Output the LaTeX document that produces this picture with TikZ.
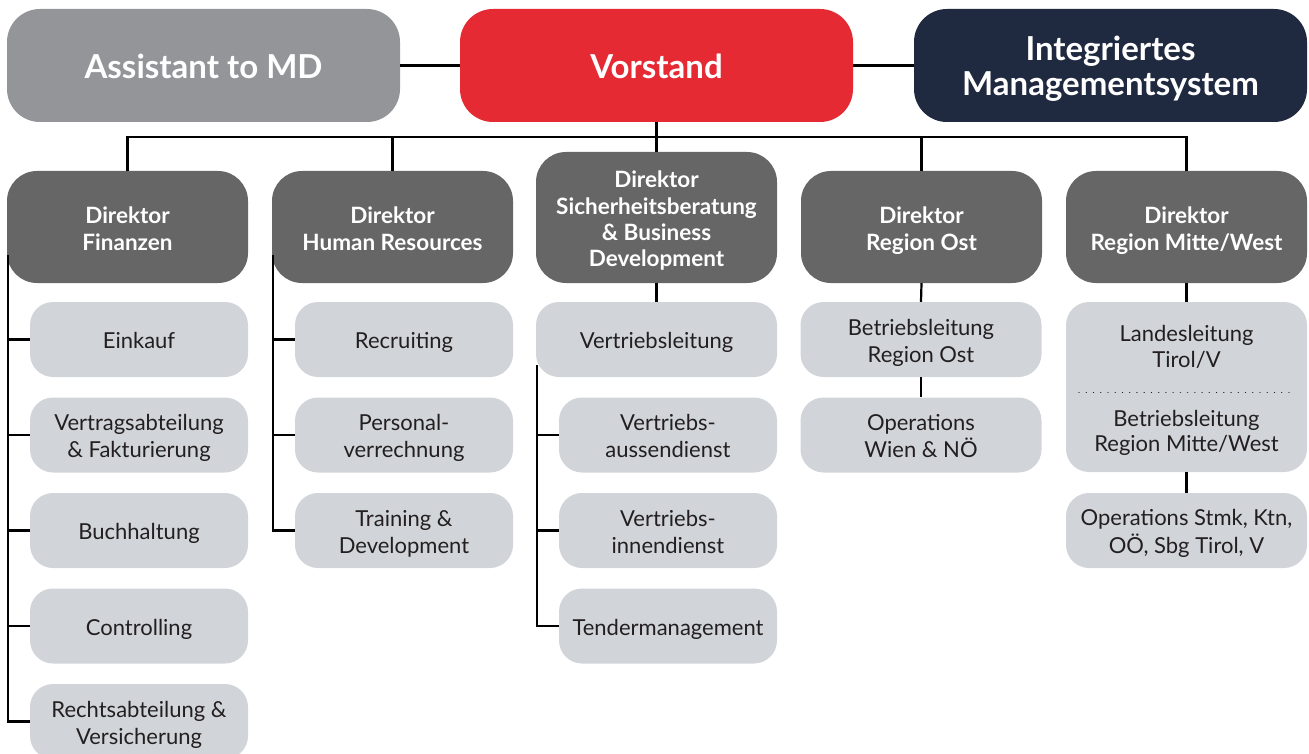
\documentclass[tikz,border=0pt]{standalone}
\usepackage{fontspec}
\setmainfont{Lato}
\usetikzlibrary{calc}
\definecolor{asstgray}{HTML}{939598}
\definecolor{vred}{HTML}{E52A34}
\definecolor{navy}{HTML}{1F2940}
\definecolor{dirgray}{HTML}{666666}
\definecolor{subgray}{HTML}{D1D5DA}
\definecolor{txt}{HTML}{231F20}
\newcommand\lowtab[2]{\raisebox{-#1}[\height][\depth]{\begin{tabular}{@{}c@{}}#2\end{tabular}}}
\newcommand\toptxt[1]{\lowtab{5.5pt}{#1}}
\newcommand\dirtxt[1]{\lowtab{4.7pt}{#1}}
\newcommand\subtxt[1]{\lowtab{3.7pt}{#1}}
\newcommand\plaintxt[1]{\lowtab{2.8pt}{#1}}
\tikzset{
  topbox/.style={fill=#1, draw=none, rounded corners=33pt, minimum width=393pt, minimum height=113pt,
    text=white, font=\bfseries\fontsize{33}{34.7}\selectfont, inner sep=0pt},
  dirbox/.style={fill=dirgray, draw=none, rounded corners=30pt, minimum width=241pt, minimum height=112pt,
    text=white, font=\bfseries\fontsize{22.5}{27}\selectfont, inner sep=0pt},
  subbox/.style={fill=subgray, draw=none, rounded corners=23pt, minimum width=218pt, minimum height=75pt,
    text=txt, font=\fontsize{22}{27}\selectfont, inner sep=0pt},
  widebox/.style={subbox, minimum width=241pt},
  plain/.style={text=txt, font=\fontsize{22}{25.3}\selectfont, inner sep=0pt},
  conn/.style={draw=black, line width=2.2pt},
}
\begin{document}
\begin{tikzpicture}[x=1pt, y=-1pt]
\useasboundingbox (0,0) rectangle (1309,754);
% top row
\node[topbox=asstgray] (asst) at (203.5,65.5) {\toptxt{Assistant to MD}};
\node[topbox=vred] (vorst) at (656.5,65.5) {\toptxt{Vorstand}};
\node[topbox=navy] (ims) at (1110.5,65.5) {\toptxt{Integriertes\\Managementsystem}};
% directors
\node[dirbox] (d1) at (127.5,227) {\dirtxt{Direktor\\Finanzen}};
\node[dirbox] (d2) at (392.5,227) {\dirtxt{Direktor\\Human Resources}};
\node[dirbox, minimum height=131pt, font=\bfseries\fontsize{22.5}{26.2}\selectfont] (d3) at (656.5,217.5) {\lowtab{4.5pt}{Direktor\\Sicherheitsberatung\\\& Business\\Development}};
\node[dirbox] (d4) at (921.5,227) {\dirtxt{Direktor\\Region Ost}};
\node[dirbox] (d5) at (1186.5,227) {\dirtxt{Direktor\\Region Mitte/West}};
% finance
\node[subbox] (f1) at (139,339.5) {\subtxt{Einkauf}};
\node[subbox] (f2) at (139,435) {\subtxt{Vertragsabteilung\\\& Fakturierung}};
\node[subbox] (f3) at (139,530.5) {\subtxt{Buchhaltung}};
\node[subbox] (f4) at (139,626) {\subtxt{Controlling}};
\node[subbox] (f5) at (139,721.5) {\subtxt{Rechtsabteilung \&\\Versicherung}};
% HR
\node[subbox] (h1) at (404,339.5) {\subtxt{Recruiting}};
\node[subbox] (h2) at (404,435) {\subtxt{Personal-\\verrechnung}};
\node[subbox] (h3) at (404,530.5) {\subtxt{Training \&\\Development}};
% sales
\node[widebox] (s0) at (656.5,339.5) {\subtxt{Vertriebsleitung}};
\node[subbox] (s1) at (668,435) {\subtxt{Vertriebs-\\aussendienst}};
\node[subbox] (s2) at (668,530.5) {\subtxt{Vertriebs-\\innendienst}};
\node[subbox] (s3) at (668,626) {\subtxt{Tendermanagement}};
% region ost
\node[widebox] (o1) at (921,339.5) {\subtxt{Betriebsleitung\\Region Ost}};
\node[widebox] (o2) at (921,435) {\subtxt{Operations\\Wien \& NÖ}};
% region mitte/west
\node[widebox, minimum height=170pt] (m1) at (1186.5,387) {};
\node[plain] (m1a) at (1186.5,346.7) {\plaintxt{Landesleitung\\Tirol/V}};
\node[plain] (m1b) at (1186.5,430.8) {\plaintxt{Betriebsleitung\\Region Mitte/West}};
\coordinate (dotL) at (1079,392.7);
\coordinate (dotR) at (1296,392.7);
\draw[txt, line width=1.4pt, dash pattern=on 0.01pt off 7.23pt, line cap=round] (dotL) -- (dotR);
\node[widebox] (m2) at (1186.5,530.5) {\subtxt{Operations Stmk, Ktn,\\OÖ, Sbg Tirol, V}};
% connectors
\coordinate (bus) at (656.5,137);
\draw[conn] (asst.east) -- (vorst.west);
\draw[conn] (vorst.east) -- (ims.west);
\draw[conn] (vorst.south) -- (d3.north);
\draw[conn] (d1.north) |- (bus) -| (d5.north);
\draw[conn] (d2.north) -- (d2.north |- bus);
\draw[conn] (d4.north) -- (d4.north |- bus);
% finance branch
\coordinate (fa) at ($(d1.south west)+(1.5,-28)$);
\draw[conn] (fa) |- (f5.west);
\foreach \n in {f1,f2,f3,f4} \draw[conn] (\n.west) -- (\n.west -| fa);
% HR branch
\coordinate (ha) at ($(d2.south west)+(1.5,-28)$);
\draw[conn] (ha) |- (h3.west);
\foreach \n in {h1,h2} \draw[conn] (\n.west) -- (\n.west -| ha);
% sales branch
\draw[conn] (d3.south) -- (s0.north);
\coordinate (sa) at ($(s0.south west)+(1.5,-12)$);
\draw[conn] (sa) |- (s3.west);
\foreach \n in {s1,s2} \draw[conn] (\n.west) -- (\n.west -| sa);
% region ost
\draw[conn] (d4.south) -- (o1.north);
\draw[conn] (o1.south) -- (o2.north);
% region mitte/west
\draw[conn] (d5.south) -- (m1.north);
\draw[conn] (m1.south) -- (m2.north);
\end{tikzpicture}
\end{document}
